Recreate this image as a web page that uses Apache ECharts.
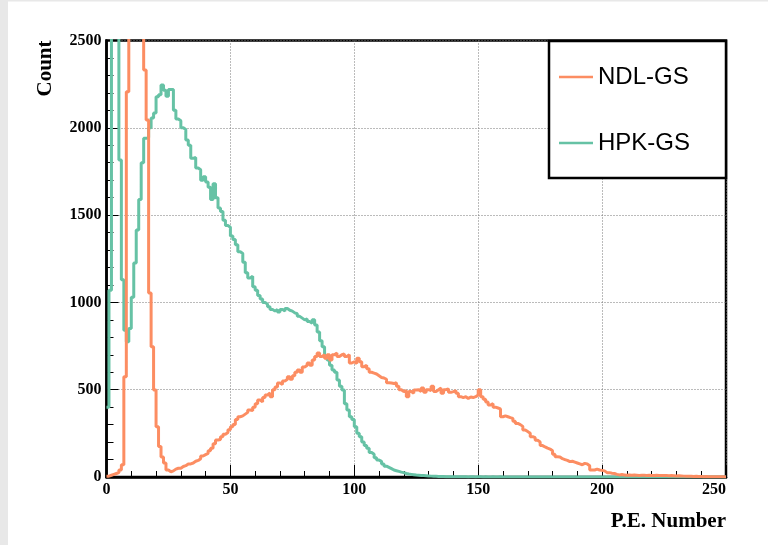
<!DOCTYPE html>
<html>
<head>
<meta charset="utf-8">
<script src="https://cdn.jsdelivr.net/npm/echarts@6/dist/echarts.min.js"></script>
<style>
html,body{margin:0;padding:0;background:#fff;}
#chart{width:768px;height:545px;}
</style>
</head>
<body>
<div id="chart"></div>
<script>
// Series names
const seriesNames = ['NDL-GS', 'HPK-GS'];
// Bin lower edges 0..249 (bin width 1 P.E.)
const binEdges = Array.from({length: 250}, (_, i) => i);
const xTicks = [0, 50, 100, 150, 200, 250];
const yTicks = [0, 500, 1000, 1500, 2000, 2500];

// NDL-GS counts per bin (values above 2500 are off-scale)
const ndlCounts = [
  5, 10, 15, 20, 25, 40, 70, 574, 2207, 3300,            // 0-9
  4500, 5000, 4800, 4000, 3200, 2331, 2045, 1054, 746, 498, // 10-19
  288, 175, 115, 80, 40, 30, 35, 45, 50, 50,              // 20-29
  60, 65, 75, 75, 80, 90, 95, 105, 120, 128,              // 30-39
  135, 150, 165, 190, 212, 215, 230, 245, 255, 270,       // 40-49
  288, 300, 330, 345, 350, 360, 370, 384, 380, 400,       // 50-59
  420, 441, 430, 455, 470, 481, 460, 500, 515, 538,       // 60-69
  530, 550, 560, 574, 560, 580, 600, 613, 600, 630,       // 70-79
  640, 653, 640, 670, 690, 710, 690, 700, 680, 700,       // 80-89
  670, 700, 710, 690, 700, 705, 690, 700, 653, 660,       // 90-99
  650, 680, 660, 632, 640, 620, 600, 595, 590, 580,       // 100-109
  570, 567, 560, 540, 538, 535, 540, 520, 500, 489,       // 110-119
  495, 460, 490, 480, 498, 500, 490, 510, 485, 500,       // 120-129
  495, 520, 490, 500, 510, 480, 500, 505, 485, 489,       // 130-139
  495, 480, 460, 455, 460, 450, 458, 455, 460, 470,       // 140-149
  500, 460, 445, 430, 412, 420, 400, 395, 390, 345,       // 150-159
  350, 345, 340, 336, 320, 307, 300, 290, 269, 260,       // 160-169
  250, 231, 225, 210, 200, 180, 172, 165, 160, 150,       // 170-179
  130, 116, 115, 105, 100, 95, 88, 90, 85, 80,            // 180-189
  75, 70, 78, 75, 65, 40, 40, 45, 40, 38,                 // 190-199
  35, 25, 25, 22, 20, 15, 12, 14, 12, 10,                 // 200-209
  12, 10, 11, 10, 9, 10, 10, 9, 10, 8,                    // 210-219
  9, 10, 9, 8, 9, 8, 7, 8, 7, 6,                          // 220-229
  7, 6, 5, 4, 5, 4, 3, 4, 3, 3,                           // 230-239
  2, 3, 2, 2, 1, 2, 1, 1, 1, 0                            // 240-249
];

// HPK-GS counts per bin (values above 2500 are off-scale)
const hpkCounts = [
  400, 1070, 3000, 3200, 3000, 1815, 1130, 840, 775, 850,  // 0-9
  1030, 1225, 1415, 1590, 1800, 1940, 1945, 2000, 2056, 2085, // 10-19
  2178, 2190, 2245, 2215, 2180, 2220, 2220, 2100, 2050, 2040, // 20-29
  2000, 1990, 1930, 1900, 1825, 1830, 1770, 1760, 1700, 1720, // 30-39
  1690, 1660, 1590, 1680, 1600, 1540, 1520, 1470, 1440, 1430, // 40-49
  1380, 1360, 1330, 1290, 1280, 1230, 1170, 1140, 1150, 1090, // 50-59
  1070, 1040, 1020, 1000, 990, 975, 960, 950, 960, 945,    // 60-69
  960, 950, 965, 955, 950, 940, 935, 920, 910, 900,        // 70-79
  905, 890, 880, 900, 870, 830, 780, 746, 690, 670,        // 80-89
  640, 613, 600, 556, 520, 498, 420, 384, 345, 330,        // 90-99
  288, 250, 230, 200, 180, 165, 140, 130, 110, 97,         // 100-109
  90, 75, 62, 55, 48, 40, 36, 32, 28, 25,                  // 110-119
  20, 17, 15, 13, 11, 10, 9, 8, 7, 6,                      // 120-129
  5, 4, 4, 3, 3, 3, 2, 2, 2, 2,                            // 130-139
  1, 2, 1, 1, 1, 0, 1, 1, 0, 1,                            // 140-149
  1, 0, 1, 0, 0, 1, 0, 0, 1, 0,                            // 150-159
  0, 0, 0, 0, 0, 0, 0, 0, 0, 0,                            // 160-169
  0, 0, 0, 0, 0, 0, 0, 0, 0, 0,                            // 170-179
  0, 0, 0, 0, 0, 0, 0, 0, 0, 0,                            // 180-189
  0, 0, 0, 0, 0, 0, 0, 0, 0, 0,                            // 190-199
  0, 0, 0, 0, 0, 0, 0, 0, 0, 0,                            // 200-209
  0, 0, 0, 0, 0, 0, 0, 0, 0, 0,                            // 210-219
  0, 0, 0, 0, 0, 0, 0, 0, 0, 0,                            // 220-229
  0, 0, 0, 0, 0, 0, 0, 0, 0, 0,                            // 230-239
  0, 0, 0, 0, 0, 0, 0, 0, 0, 0                             // 240-249
];

function histData(counts) {
  const d = binEdges.map((x, i) => [x, counts[i]]);
  d.push([binEdges[binEdges.length - 1] + 1, counts[counts.length - 1]]);
  return d;
}

const colors = { 'NDL-GS': '#fc8d62', 'HPK-GS': '#66c2a5' };
const serifBold = { fontFamily: 'Liberation Serif', fontWeight: 'bold', color: '#000' };
const plain = v => String(v);

const chart = echarts.init(document.getElementById('chart'), null, { renderer: 'canvas' });
chart.setOption({
  animation: false,
  backgroundColor: '#fff',
  grid: {
    left: 106.5, right: 42, top: 40.5, bottom: 68,
    show: true, borderColor: '#000', borderWidth: 2.5, backgroundColor: 'transparent'
  },
  xAxis: {
    type: 'value', min: xTicks[0], max: xTicks[xTicks.length - 1], interval: 50,
    name: 'P.E. Number', nameLocation: 'end', nameGap: 0,
    nameTextStyle: Object.assign({}, serifBold, { fontSize: 21, align: 'right', verticalAlign: 'top', padding: [34, 0, 0, 0] }),
    axisLine: { show: true, lineStyle: { color: '#000', width: 2.5 } },
    axisTick: { show: true, inside: true, length: 12, lineStyle: { color: '#000', width: 1 } },
    minorTick: { show: true, splitNumber: 5, length: 6, lineStyle: { color: '#000', width: 1 } },
    axisLabel: Object.assign({}, serifBold, { fontSize: 16, margin: 5, alignMaxLabel: 'right', formatter: plain }),
    splitLine: { show: true, lineStyle: { color: '#777', type: [1, 2], width: 1 } }
  },
  yAxis: {
    type: 'value', min: yTicks[0], max: yTicks[yTicks.length - 1], interval: 500,
    name: 'Count', nameLocation: 'end', nameGap: 0, nameRotate: 90,
    nameTextStyle: Object.assign({}, serifBold, { fontSize: 21, align: 'right', verticalAlign: 'bottom', padding: [0, 0, 50, 0] }),
    axisLine: { show: true, lineStyle: { color: '#000', width: 2.5 } },
    axisTick: { show: true, inside: true, length: 12, lineStyle: { color: '#000', width: 1 } },
    minorTick: { show: true, splitNumber: 5, length: 7, lineStyle: { color: '#000', width: 1 } },
    axisLabel: Object.assign({}, serifBold, { fontSize: 16, margin: 5, formatter: plain }),
    splitLine: { show: true, lineStyle: { color: '#777', type: [1, 2], width: 1 } }
  },
  legend: {
    data: seriesNames,
    orient: 'vertical', left: 554, top: 60, itemGap: 42,
    icon: 'rect', itemWidth: 34, itemHeight: 2.5,
    textStyle: { fontFamily: 'Liberation Sans', fontSize: 24, color: '#000' },
    z: 10
  },
  graphic: [
    { type: 'rect', shape: { x: 0, y: 0, width: 8, height: 545 }, style: { fill: '#e8e8e8' }, z: 1 },
    { type: 'rect', shape: { x: 0, y: 0, width: 768, height: 1.5 }, style: { fill: '#e8e8e8' }, z: 1 },
    { type: 'rect', shape: { x: 549, y: 41, width: 177, height: 137 }, style: { fill: '#fff', stroke: '#000', lineWidth: 2.5 }, z: 5 }
  ],
  series: [
    {
      name: 'HPK-GS', type: 'line', step: 'end', showSymbol: false, symbol: 'none',
      data: histData(hpkCounts), color: colors['HPK-GS'],
      lineStyle: { width: 3, color: colors['HPK-GS'] }, clip: true, z: 2
    },
    {
      name: 'NDL-GS', type: 'line', step: 'end', showSymbol: false, symbol: 'none',
      data: histData(ndlCounts), color: colors['NDL-GS'],
      lineStyle: { width: 3, color: colors['NDL-GS'] }, clip: true, z: 3
    }
  ]
});
</script>
</body>
</html>
